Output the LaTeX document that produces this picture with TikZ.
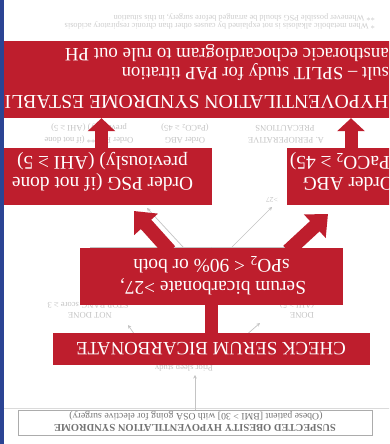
\documentclass[tikz,border=0pt]{standalone}
\usepackage{fontspec}
\setmainfont{Liberation Serif}
\usetikzlibrary{arrows.meta}
\definecolor{redc}{RGB}{190,30,45}
\definecolor{bluec}{RGB}{43,68,148}
\definecolor{faintc}{RGB}{196,196,196}
\definecolor{footc}{RGB}{205,205,205}
\definecolor{susc}{RGB}{115,115,115}
\definecolor{glinec}{RGB}{218,218,218}
\newcommand{\myfs}[1]{\fontsize{#1}{#1}\selectfont}
\begin{document}
\begin{tikzpicture}[x=1pt,y=1pt,
  redbox/.style={fill=redc, draw=none, inner sep=0pt},
  redtxt/.style={text=white, inner sep=0pt, font=\myfs{19.4}},
  faint/.style={text=faintc, inner sep=0pt, font=\myfs{8.6}},
  foot/.style={text=footc, inner sep=0pt, font=\myfs{8.3}},
  garrow/.style={draw=faintc, line width=0.7pt, -{Stealth[length=3.5pt,width=3.5pt]}},
  redarrow/.style={draw=redc, line width=13pt, -{Triangle[width=27pt,length=13pt]}},
  reddiag/.style={draw=redc, line width=14pt, -{Triangle[width=31pt,length=18pt]}}]
\useasboundingbox (0,0) rectangle (389,444);
\clip (0,0) rectangle (389,444);
\fill[white] (0,0) rectangle (389,444);
\begin{scope}[rotate around={180:(194.5,222)}, transform shape]
  % ---------- faint background flowchart ----------
  \node[foot, anchor=base west] (f1) at (14,24) {* When metabolic alkalosis is not explained by causes other than chronic respiratory acidosis};
  \node[foot, anchor=base west] (f2) at (14,16) {** Whenever possible PSG should be arranged before surgery, in this situation};
  \coordinate (hl) at (-5,408); \coordinate (hr) at (394,408);
  \draw[glinec, line width=0.6pt] (hl) -- (hr);
  \node[draw=gray!65, line width=0.7pt, fill=white, minimum width=354pt, minimum height=25pt, inner sep=0pt] (sus) at (194,422.5) {};
  \node[text=susc, font=\bfseries\myfs{10.5}, anchor=base, inner sep=0pt] (sus1) at (194,424) {SUSPECTED OBESITY HYPOVENTILATION SYNDROME};
  \node[text=susc, font=\myfs{9.8}, anchor=base, inner sep=0pt] (sus2) at (193,414) {(Obese patient [BMI > 30] with OSA going for elective surgery)};
  \node[faint, anchor=base] (prior) at (205,366) {Prior sleep study};
  \coordinate (px) at (194,0);
  \coordinate (pend) at (194,375);
  \draw[garrow] (px |- sus.south) -- (pend);
  \node[faint, anchor=base] (done1) at (87,313) {DONE};
  \node[faint, anchor=base] (done2) at (92,303) {(AHI ≥ 5)};
  \node[faint, anchor=base] (nd1) at (299,313) {NOT DONE};
  \node[faint, anchor=base] (nd2) at (301,303) {STOP BANG score ≥ 3};
  \coordinate (dtip) at (129,323); \coordinate (ntip) at (261,325);
  \draw[garrow] (prior.south west) -- (dtip);
  \draw[garrow] (prior.south east) -- (ntip);
  \node[draw=faintc, line width=0.7pt, minimum width=210pt, minimum height=22pt, inner sep=0pt] (fchk) at (194,258) {};
  \coordinate (fa) at (206,247); \coordinate (fat) at (242,208);
  \coordinate (fb) at (157,247); \coordinate (fbt) at (117,207);
  \draw[garrow] (fa) -- (fat);
  \draw[garrow] (fb) -- (fbt);
  \node[faint, font=\myfs{7.5}] (gt27) at (117,200) {>27};
  \node[faint, anchor=base] (o1) at (300,138) {Order PSG** (if not done};
  \node[faint, anchor=base] (o2) at (300,126) {previously) (AHI ≥ 5)};
  \node[faint, anchor=base] (o3) at (204,138) {Order ABG};
  \node[faint, anchor=base] (o4) at (204,126) {(PaCO\textsubscript{2} ≥ 45)};
  \node[faint, anchor=base] (o5) at (103,138) {A. PERIOPERATIVE};
  \node[faint, anchor=base] (o6) at (104,126) {PRECAUTIONS};
  % ---------- red callouts ----------
  \node[redbox, minimum width=389pt, minimum height=77pt] (top) at (192.5,79.5) {};
  \node[redbox, minimum width=209pt, minimum height=57pt] (psg) at (281.5,176.5) {};
  \node[redbox, minimum width=106pt, minimum height=57pt] (abg) at (49,176.5) {};
  \node[redbox, minimum width=263pt, minimum height=57pt] (bic) at (177.5,276.5) {};
  \node[redbox, minimum width=317pt, minimum height=32pt] (chk) at (177.5,349) {};
  % arrows
  \draw[redarrow] (chk.north) -- (bic.south);
  \coordinate (ax1) at (287.5,0);
  \coordinate (ax2) at (38,0);
  \draw[redarrow] (ax1 |- psg.south) -- (ax1 |- top.north);
  \draw[redarrow] (ax2 |- abg.south) -- (ax2 |- top.north);
  \coordinate (d1s) at (219,251); \coordinate (d1t) at (255,211);
  \coordinate (d2s) at (101,251); \coordinate (d2t) at (61,214);
  \draw[reddiag] (d1s) -- (d1t);
  \draw[reddiag] (d2s) -- (d2t);
  % texts
  \node[redtxt, font=\myfs{19.7}, anchor=base west] (t1) at (0.5,96) {HYPOVENTILATION SYNDROME ESTABLI};
  \node[redtxt, font=\myfs{18.6}, anchor=base west] (t2) at (0,68) {sult – SPLIT study for PAP titration};
  \node[redtxt, font=\myfs{18.9}, anchor=base west] (t3) at (0,49) {ansthoracic echocardiogram to rule out PH};
  \node[redtxt, anchor=base] (p1) at (286.5,178) {Order PSG (if not done};
  \node[redtxt, anchor=base] (p2) at (286.5,157) {previously) (AHI ≥ 5)};
  \node[redtxt, anchor=base west] (a1) at (-5,178) {Order ABG};
  \node[redtxt, anchor=base west] (a2) at (-1,157) {PaCO\textsubscript{2} ≥ 45)};
  \node[redtxt, anchor=base] (b1) at (176,282) {Serum bicarbonate >27,};
  \node[redtxt, anchor=base] (b2) at (177.5,260) {sPO\textsubscript{2} < 90\% or both};
  \node[redtxt, font=\myfs{18.8}, anchor=base] (c1) at (178,343) {CHECK SERUM BICARBONATE};
  % left blue bar
  \fill[bluec] (385,-1) rectangle (390,445);
\end{scope}
\end{tikzpicture}
\end{document}
